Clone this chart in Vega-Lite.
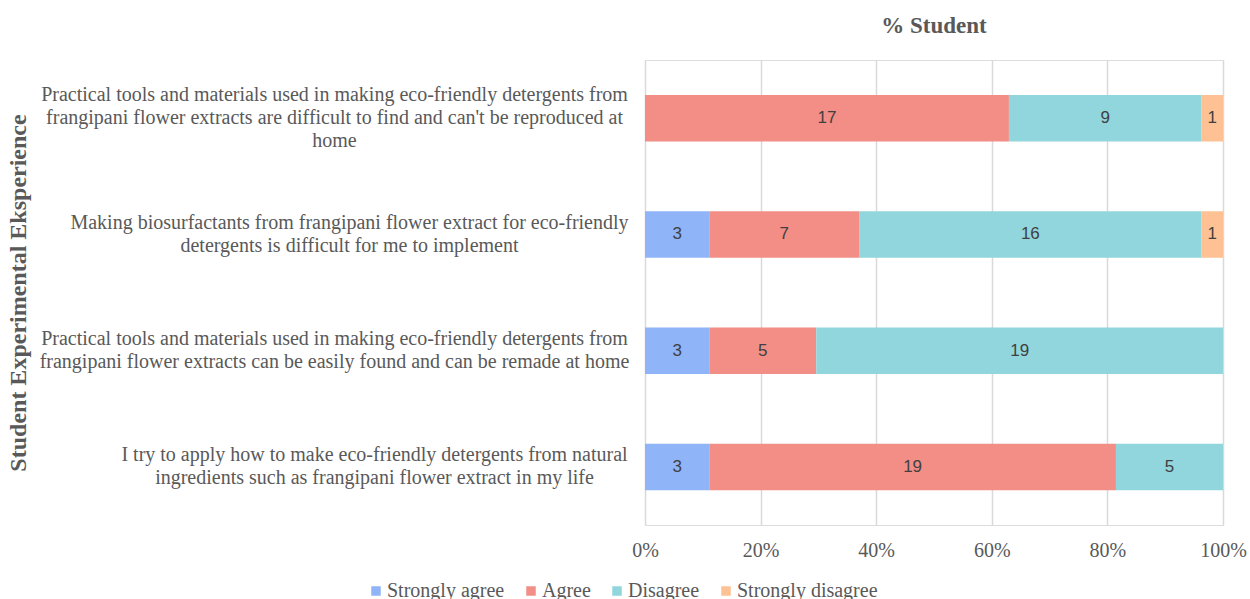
{
  "$schema": "https://vega.github.io/schema/vega-lite/v6.json",
  "width": 578,
  "height": 465,
  "autosize": {"type": "none"},
  "padding": {"left": 645, "top": 60, "right": 27, "bottom": 74},
  "background": "white",
  "config": {
    "font": "Liberation Serif",
    "axis": {"labelFont": "Liberation Serif", "titleFont": "Liberation Serif"},
    "axisX": {
      "labelFont": "Liberation Serif",
      "labelFontSize": 20,
      "labelColor": "#595959",
      "labelPadding": 15,
      "labelFlush": false,
      "ticks": false,
      "domain": false,
      "grid": true,
      "gridColor": "#d9d9d9",
      "gridWidth": 1.5
    },
    "legend": {"labelFont": "Liberation Serif"}
  },
  "title": {
    "text": "% Student",
    "frame": "group",
    "anchor": "middle",
    "font": "Liberation Serif",
    "fontSize": 23,
    "fontWeight": "bold",
    "color": "#595959",
    "offset": 22
  },
  "data": {
    "values": [
      {"question": "Practical tools and materials used in making eco-friendly detergents from|frangipani flower extracts are difficult to find and can't be reproduced at|home", "qorder": 1, "response": "Agree", "rorder": 2, "count": 17},
      {"question": "Practical tools and materials used in making eco-friendly detergents from|frangipani flower extracts are difficult to find and can't be reproduced at|home", "qorder": 1, "response": "Disagree", "rorder": 3, "count": 9},
      {"question": "Practical tools and materials used in making eco-friendly detergents from|frangipani flower extracts are difficult to find and can't be reproduced at|home", "qorder": 1, "response": "Strongly disagree", "rorder": 4, "count": 1},
      {"question": "Making biosurfactants from frangipani flower extract for eco-friendly|detergents is difficult for me to implement", "qorder": 2, "response": "Strongly agree", "rorder": 1, "count": 3},
      {"question": "Making biosurfactants from frangipani flower extract for eco-friendly|detergents is difficult for me to implement", "qorder": 2, "response": "Agree", "rorder": 2, "count": 7},
      {"question": "Making biosurfactants from frangipani flower extract for eco-friendly|detergents is difficult for me to implement", "qorder": 2, "response": "Disagree", "rorder": 3, "count": 16},
      {"question": "Making biosurfactants from frangipani flower extract for eco-friendly|detergents is difficult for me to implement", "qorder": 2, "response": "Strongly disagree", "rorder": 4, "count": 1},
      {"question": "Practical tools and materials used in making eco-friendly detergents from|frangipani flower extracts can be easily found and can be remade at home", "qorder": 3, "response": "Strongly agree", "rorder": 1, "count": 3},
      {"question": "Practical tools and materials used in making eco-friendly detergents from|frangipani flower extracts can be easily found and can be remade at home", "qorder": 3, "response": "Agree", "rorder": 2, "count": 5},
      {"question": "Practical tools and materials used in making eco-friendly detergents from|frangipani flower extracts can be easily found and can be remade at home", "qorder": 3, "response": "Disagree", "rorder": 3, "count": 19},
      {"question": "I try to apply how to make eco-friendly detergents from natural|ingredients such as frangipani flower extract in my life", "qorder": 4, "response": "Strongly agree", "rorder": 1, "count": 3},
      {"question": "I try to apply how to make eco-friendly detergents from natural|ingredients such as frangipani flower extract in my life", "qorder": 4, "response": "Agree", "rorder": 2, "count": 19},
      {"question": "I try to apply how to make eco-friendly detergents from natural|ingredients such as frangipani flower extract in my life", "qorder": 4, "response": "Disagree", "rorder": 3, "count": 5}
    ]
  },
  "encoding": {
    "y": {
      "field": "question",
      "type": "nominal",
      "sort": {"field": "qorder", "op": "min"},
      "scale": {"paddingInner": 0.6, "paddingOuter": 0.3},
      "axis": {
        "title": "Student Experimental Eksperience",
        "titleFont": "Liberation Serif",
        "titleFontSize": 24,
        "titleFontWeight": "bold",
        "titleColor": "#595959",
        "titleX": -627,
        "titleBaseline": "middle",
        "labelExpr": "split(datum.label, '|')",
        "labelFont": "Liberation Serif",
        "labelFontSize": 20,
        "labelLineHeight": 23,
        "labelColor": "#595959",
        "labelAlign": "center",
        "labelBaseline": "middle",
        "labelLimit": 0,
        "labelPadding": {
          "condition": [
            {"test": "datum.value[0] == 'M'", "value": 296},
            {"test": "datum.value[0] == 'I'", "value": 271}
          ],
          "value": 311
        },
        "labelOffset": {
          "condition": {"test": "datum.value[101] == 'a'", "value": -23},
          "value": -11.5
        },
        "ticks": false,
        "domain": false,
        "grid": false
      }
    }
  },
  "layer": [
    {
      "mark": {"type": "bar"},
      "encoding": {
        "x": {
          "field": "count",
          "type": "quantitative",
          "stack": "normalize",
          "scale": {"domain": [0, 1]},
          "axis": {
            "title": null,
            "format": "%",
            "values": [0, 0.2, 0.4, 0.6, 0.8, 1],
            "labelFont": "Liberation Serif",
            "labelFontSize": 20,
            "labelFlush": false
          }
        },
        "color": {
          "field": "response",
          "type": "nominal",
          "scale": {
            "domain": ["Strongly agree", "Agree", "Disagree", "Strongly disagree"],
            "range": ["#8fb4f8", "#f28e86", "#91d6dd", "#fdc193"]
          },
          "legend": {
            "title": null,
            "orient": "none",
            "direction": "horizontal",
            "legendX": -279,
            "legendY": 521,
            "symbolType": "square",
            "symbolSize": 90,
            "symbolStrokeWidth": 0,
            "symbolOpacity": 1,
            "labelFont": "Liberation Serif",
            "labelFontSize": 20,
            "labelColor": "#595959",
            "labelOffset": 1,
            "columnPadding": 16,
            "labelLimit": 0
          }
        },
        "order": {"field": "rorder", "type": "quantitative"}
      }
    },
    {
      "mark": {"type": "text", "font": "Liberation Sans", "fontSize": 17, "color": "#404040", "baseline": "middle"},
      "encoding": {
        "x": {"field": "count", "type": "quantitative", "stack": "normalize", "bandPosition": 0.5, "axis": {"title": null, "format": "%", "values": [0, 0.2, 0.4, 0.6, 0.8, 1], "labelFont": "Liberation Serif", "labelFontSize": 20, "labelFlush": false}},
        "text": {"field": "count", "type": "quantitative"},
        "detail": {"field": "response", "type": "nominal"},
        "order": {"field": "rorder", "type": "quantitative"}
      }
    }
  ]
}
